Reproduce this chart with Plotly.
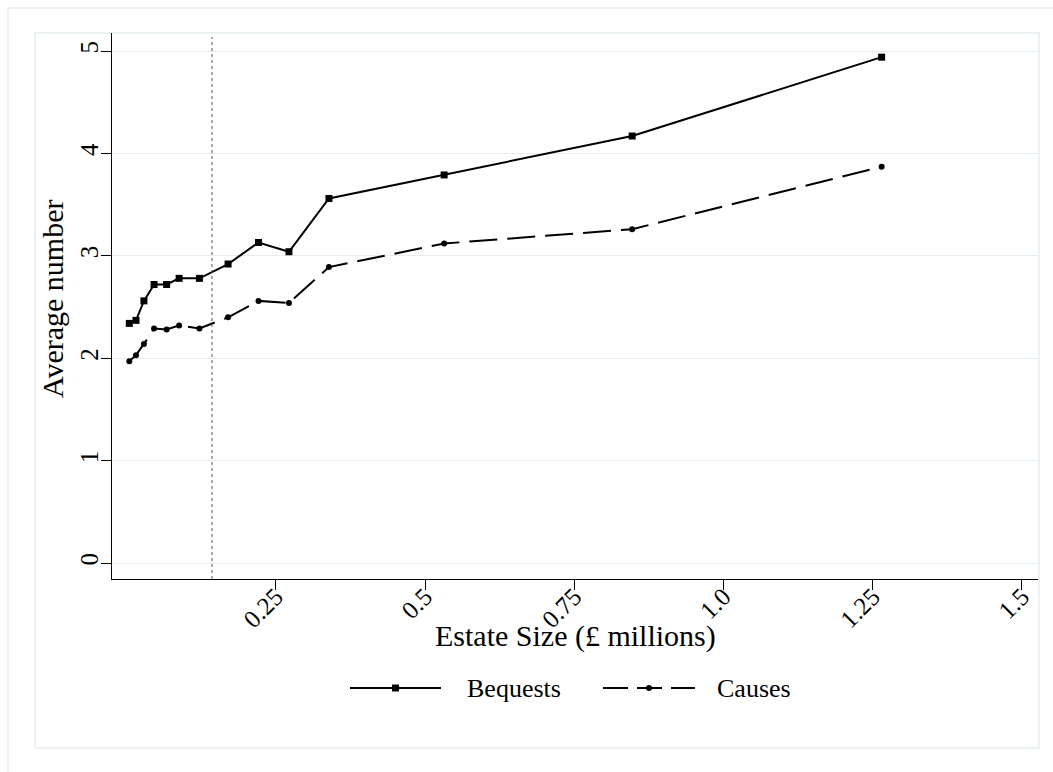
import plotly.graph_objects as go

# ---- data ----
estate_size = [0.0045, 0.0157, 0.029, 0.046, 0.067, 0.088, 0.122, 0.170,
               0.221, 0.272, 0.339, 0.532, 0.847, 1.265]
bequests = [2.34, 2.37, 2.56, 2.72, 2.72, 2.78, 2.78, 2.92, 3.13, 3.04,
            3.56, 3.79, 4.17, 4.94]
causes = [1.97, 2.03, 2.14, 2.29, 2.28, 2.32, 2.29, 2.40, 2.56, 2.54,
          2.89, 3.12, 3.26, 3.87]
threshold = 0.143
x_ticks = [0.25, 0.5, 0.75, 1.0, 1.25, 1.5]
x_tick_labels = ["0.25", "0.5", "0.75", "1.0", "1.25", "1.5"]
y_ticks = [0, 1, 2, 3, 4, 5]
series_names = ["Bequests", "Causes"]

FONT = "Liberation Serif"
TICK_SIZE = 25
TITLE_SIZE = 30
LEG_SIZE = 26
DASH = "28px,10px"
W, H = 1053, 772
L, R, T, B = 112, 1038, 33, 579  # plot area in px


def px(xp):
    return (xp - L) / (R - L)


def py(yp):
    return (B - yp) / (B - T)


fig = go.Figure()
fig.add_trace(go.Scatter(
    x=estate_size, y=bequests, mode="lines+markers", name=series_names[0],
    line=dict(color="black", width=2),
    marker=dict(symbol="square", size=7, color="black"), showlegend=False))
fig.add_trace(go.Scatter(
    x=estate_size, y=causes, mode="lines+markers", name=series_names[1],
    line=dict(color="black", width=2, dash=DASH),
    marker=dict(symbol="circle", size=6, color="black"), showlegend=False))

shapes = []
border_col = "#e6eef0"
# outer and inner region frames
shapes.append(dict(type="rect", xref="paper", yref="paper",
                   x0=px(8), x1=px(1060), y0=py(780), y1=py(8),
                   line=dict(color=border_col, width=1.5), layer="below"))
shapes.append(dict(type="rect", xref="paper", yref="paper",
                   x0=px(35), x1=px(1039), y0=py(748), y1=py(33),
                   line=dict(color=border_col, width=1.5), layer="below"))
# vertical dotted threshold line
shapes.append(dict(type="line", xref="x", yref="paper", x0=threshold, x1=threshold,
                   y0=0, y1=py(37), line=dict(color="#555555", width=1, dash="dot")))

# manual legend
leg_y = py(688)
shapes.append(dict(type="line", xref="paper", yref="paper", x0=px(350), x1=px(441),
                   y0=leg_y, y1=leg_y, line=dict(color="black", width=2)))
shapes.append(dict(type="rect", xref="paper", yref="paper", x0=px(392), x1=px(399),
                   y0=py(691.5), y1=py(684.5), fillcolor="black", line=dict(width=0)))
shapes.append(dict(type="line", xref="paper", yref="paper", x0=px(603), x1=px(695),
                   y0=leg_y, y1=leg_y, line=dict(color="black", width=2, dash="25px,9px")))
shapes.append(dict(type="circle", xref="paper", yref="paper", x0=px(646), x1=px(652),
                   y0=py(691), y1=py(685), fillcolor="black", line=dict(width=0)))

annotations = [
    dict(text=series_names[0], xref="paper", yref="paper", x=px(465), y=leg_y,
         xanchor="left", yanchor="middle", showarrow=False,
         font=dict(family=FONT, size=LEG_SIZE, color="black")),
    dict(text=series_names[1], xref="paper", yref="paper", x=px(715), y=leg_y,
         xanchor="left", yanchor="middle", showarrow=False,
         font=dict(family=FONT, size=LEG_SIZE, color="black")),
    dict(text="Estate Size (£ millions)", xref="paper", yref="paper", x=px(575), y=py(636),
         xanchor="center", yanchor="middle", showarrow=False,
         font=dict(family=FONT, size=TITLE_SIZE, color="black")),
    dict(text="Average number", xref="paper", yref="paper", x=px(52), y=py(298),
         xanchor="center", yanchor="middle", showarrow=False, textangle=-90,
         font=dict(family=FONT, size=TITLE_SIZE, color="black")),
]

fig.update_layout(
    width=W, height=H,
    margin=dict(l=L, r=W - R, t=T, b=H - B, pad=0),
    paper_bgcolor="white", plot_bgcolor="white",
    font=dict(family=FONT, size=TICK_SIZE, color="black"),
    shapes=shapes, annotations=annotations,
    xaxis=dict(range=[-0.0245, 1.527], tickmode="array", tickvals=x_ticks,
               ticktext=x_tick_labels,
               tickangle=-45, ticks="outside", ticklen=10, tickcolor="black",
               tickwidth=1.2, showline=True, linecolor="black", linewidth=1.3,
               showgrid=False, zeroline=False, automargin=False,
               ticklabelposition="outside", ticklabelstandoff=-18,
               tickfont=dict(family=FONT, size=TICK_SIZE, color="black")),
    yaxis=dict(range=[-0.156, 5.176], tickmode="array", tickvals=y_ticks, tickangle=-90,
               ticks="outside", ticklen=10, tickcolor="black", tickwidth=1.2,
               showline=True, linecolor="black", linewidth=1.3,
               showgrid=True, gridcolor="#e4eef0", gridwidth=1.3,
               zeroline=False, automargin=False,
               ticklabelposition="outside", ticklabelstandoff=-7,
               tickfont=dict(family=FONT, size=TICK_SIZE, color="black")),
)

fig.write_html("out.html")
